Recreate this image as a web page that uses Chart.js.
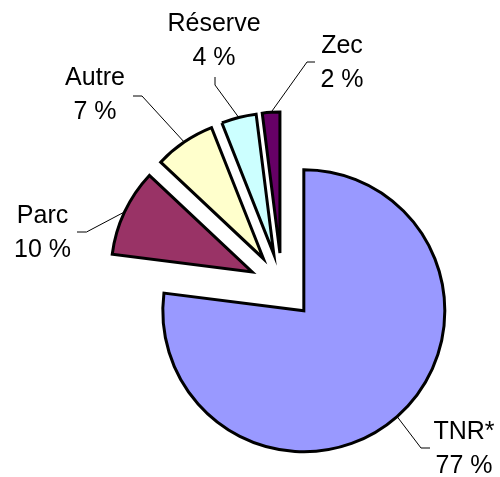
<!DOCTYPE html>
<html>
<head>
<meta charset="utf-8">
<script src="https://cdn.jsdelivr.net/npm/chart.js@4/dist/chart.umd.min.js"></script>
<style>
body{margin:0;background:#fff}
#box{width:500px;height:477px}
</style>
</head>
<body>
<div id="box"><canvas id="myChart" width="500" height="477"></canvas></div>
<script>
// data
categorie=['TNR*','Parc','Autre','Réserve','Zec']
valori=[77,10,7,4,2]
etichette=['77 %','10 %','7 %','4 %','2 %']
colori=['#9999FF','#993366','#FFFFCC','#CCFFFF','#660066']

// layout of the labels: text centre x, first baseline, elbow point, end of the short tick
posEtichette=[
    {x:464, y:439, gomito:[421,448], fine:[430,448]},
    {x:42.5, y:223, gomito:[86.5,232], fine:[77,232]},
    {x:95, y:85, gomito:[142,96], fine:[133,96]},
    {x:214, y:31, gomito:[215,85], fine:[215,77]},
    {x:342, y:53, gomito:[307,62], fine:[315,62]}
]
ESPLOSO=33
RAGGIO=141
FONT='25px "Liberation Sans", Arial, sans-serif'

// every slice is pushed out along its middle angle (like Excel "exploded pie")
const esplodi={
    id:'esplodi',
    beforeDatasetDraw(chart,args){
        const ctx=chart.ctx
        args.meta.data.forEach(function(arc){
            const a=(arc.startAngle+arc.endAngle)/2
            ctx.save()
            ctx.translate(Math.cos(a)*ESPLOSO,Math.sin(a)*ESPLOSO)
            arc.draw(ctx)
            ctx.restore()
        })
        return false
    }
}

// leader lines + text
const etichettePlugin={
    id:'etichette',
    afterDatasetsDraw(chart){
        const ctx=chart.ctx
        const meta=chart.getDatasetMeta(0)
        ctx.save()
        ctx.font=FONT
        ctx.fillStyle='#000'
        ctx.strokeStyle='#000'
        ctx.lineWidth=1
        ctx.textAlign='center'
        meta.data.forEach(function(arc,i){
            const a=(arc.startAngle+arc.endAngle)/2
            const r=arc.outerRadius+ESPLOSO
            const px=arc.x+Math.cos(a)*r
            const py=arc.y+Math.sin(a)*r
            const p=posEtichette[i]
            ctx.beginPath()
            ctx.moveTo(px,py)
            ctx.lineTo(p.gomito[0],p.gomito[1])
            ctx.lineTo(p.fine[0],p.fine[1])
            ctx.stroke()
            ctx.fillText(categorie[i],p.x,p.y)
            ctx.fillText(etichette[i],p.x,p.y+34)
        })
        ctx.restore()
    }
}

const ctx=document.getElementById('myChart').getContext('2d')
const myChart=new Chart(ctx,{
    type:'pie',
    data:{
        labels:categorie,
        datasets:[{
            data:valori,
            backgroundColor:colori,
            borderColor:'#000',
            borderWidth:3,
            borderJoinStyle:'miter',
            radius:RAGGIO
        }]
    },
    options:{
        responsive:false,
        animation:false,
        layout:{padding:{left:64,right:0,top:95,bottom:0}},
        plugins:{
            legend:{display:false},
            tooltip:{enabled:false}
        }
    },
    plugins:[esplodi,etichettePlugin]
})
</script>
</body>
</html>
